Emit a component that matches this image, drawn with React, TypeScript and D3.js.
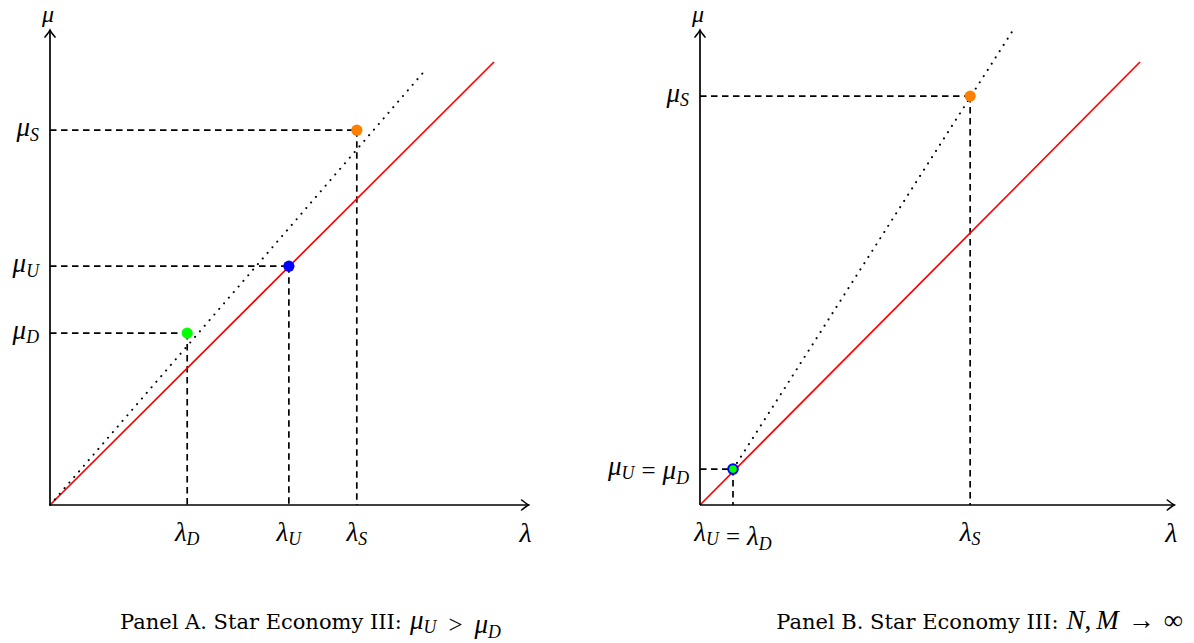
import React from 'react';
import { scaleLinear, line } from 'd3';

const width = 1194;
const height = 643;

// Panel A: Star Economy III, mu_U > mu_D
const aNames = ['D', 'U', 'S'];
const aLambda = [3.09, 5.38, 6.91];
const aMu = [3.88, 5.39, 8.46];
const aDotted = [[0, 0], [8.49, 9.86]];

// Panel B: N, M -> infinity
const bNames = ['UD', 'S'];
const bLambda = [0.75, 6.14];
const bMu = [0.81, 9.23];
const bDotted = [[0.75, 0.81], [7.16, 10.79]];

const diagonal = [[0, 0], [10, 10]];
const axisMax = [10.78, 10.72];

const pointFill: Record<string, string> = { D: '#00ff00', U: '#0000ff', S: '#ff8000', UD: '#00ff00' };
const font = '"Liberation Serif", "DejaVu Serif", serif';
const titleFont = '"DejaVu Serif", "Liberation Serif", serif';

const Sym = ({ s, sub, size = 27, dx = 0 }: { s: string; sub: string; size?: number; dx?: number }) => (
  <>
    <tspan fontStyle="italic" fontSize={size} dx={dx}>{s}</tspan>
    <tspan fontStyle="italic" fontSize={size * 0.66} dy={size * 0.16}>{sub}</tspan>
    <tspan dy={-size * 0.16}></tspan>
  </>
);

const label = (kind: 'μ' | 'λ', n: string) =>
  n === 'UD'
    ? (<><Sym s={kind} sub="U" /><tspan fontSize={25} dx={7}>=</tspan><Sym s={kind} sub="D" dx={7} /></>)
    : <Sym s={kind} sub={n} />;

const Arrow = ({ x, y, dir }: { x: number; y: number; dir: 'right' | 'up' }) => {
  const d = dir === 'right'
    ? `M${x - 7},${y - 5} Q${x - 2},${y - 1} ${x},${y} Q${x - 2},${y + 1} ${x - 7},${y + 5}`
    : `M${x - 5},${y + 7} Q${x - 1},${y + 2} ${x},${y} Q${x + 1},${y + 2} ${x + 5},${y + 7}`;
  return <path d={d} fill="none" stroke="#000" strokeWidth={1.6} strokeLinecap="round" />;
};

type PanelProps = {
  x0: number;
  xRed: number;
  names: string[];
  lambdas: number[];
  mus: number[];
  dotted: number[][];
};

const Panel = ({ x0, xRed, names, lambdas, mus, dotted }: PanelProps) => {
  const x = scaleLinear().domain([0, 10]).range([x0, xRed]);
  const y = scaleLinear().domain([0, 10]).range([505, 62]);
  const path = line<number[]>().x(d => x(d[0])).y(d => y(d[1]));
  const xEnd = x(axisMax[0]);
  const yEnd = y(axisMax[1]);

  return (
    <g fontFamily={font}>
      {/* dashed guides */}
      {names.map((n, i) => (
        <g key={'g' + n}>
          <line x1={x(0)} x2={x(lambdas[i])} y1={y(mus[i])} y2={y(mus[i])}
            stroke="#000" strokeWidth={1.7} strokeDasharray="6.5,4.5" />
          <line x1={x(lambdas[i])} x2={x(lambdas[i])} y1={y(mus[i])} y2={y(0)}
            stroke="#000" strokeWidth={1.7} strokeDasharray="6.5,4.5" />
        </g>
      ))}
      <path d={path(diagonal) || ''} stroke="#ff0000" strokeWidth={1.7} fill="none" />
      <path d={path(dotted) || ''} stroke="#000" strokeWidth={2} fill="none"
        strokeDasharray="0.1,7.3" strokeLinecap="round" />
      {/* axes */}
      <line x1={x(0)} x2={xEnd} y1={y(0)} y2={y(0)} stroke="#000" strokeWidth={1.7} />
      <line x1={x(0)} x2={x(0)} y1={y(0)} y2={yEnd} stroke="#000" strokeWidth={1.7} />
      <Arrow x={xEnd} y={y(0)} dir="right" />
      <Arrow x={x(0)} y={yEnd} dir="up" />
      <text x={xEnd - 3} y={y(0) + 37} fontSize={28} fontStyle="italic" textAnchor="middle">λ</text>
      <text x={x(0) - 2} y={yEnd - 8} fontSize={24} fontStyle="italic" textAnchor="middle">μ</text>
      {/* points */}
      {names.map((n, i) => (
        <circle key={'p' + n} cx={x(lambdas[i])} cy={y(mus[i])} r={n === 'UD' ? 4.8 : 5.6}
          fill={pointFill[n]} stroke={n === 'UD' ? '#0000ff' : 'none'} strokeWidth={2} />
      ))}
      {/* tick labels */}
      {names.map((n, i) => (
        <g key={'l' + n}>
          <text x={x(0) - 11} y={y(mus[i]) + 6} textAnchor="end">{label('μ', n)}</text>
          <text x={x(lambdas[i])} y={y(0) + 36} textAnchor="middle">{label('λ', n)}</text>
        </g>
      ))}
    </g>
  );
};

const App = () => (
  <svg width={width} height={height} style={{ position: 'absolute', left: 0, top: 0, background: '#fff' }}>
    <Panel x0={50} xRed={494} names={aNames} lambdas={aLambda} mus={aMu} dotted={aDotted} />
    <Panel x0={700} xRed={1140} names={bNames} lambdas={bLambda} mus={bMu} dotted={bDotted} />
    <text x={120} y={629} fontFamily={titleFont} fontSize={21}>
      Panel A. Star Economy III:
      <tspan fontFamily={font}>
        <Sym s="μ" sub="U" size={27} dx={8} />
        <tspan fontSize={25} dx={12}>&gt;</tspan>
        <Sym s="μ" sub="D" size={27} dx={12} />
      </tspan>
    </text>
    <text x={1183} y={629} fontFamily={titleFont} fontSize={21} textAnchor="end">
      Panel B. Star Economy III:
      <tspan fontFamily={font} fontSize={27}>
        <tspan fontStyle="italic" dx={8}>N</tspan>
        <tspan>,</tspan>
        <tspan fontStyle="italic" dx={5}>M</tspan>
        <tspan dx={9}>→</tspan>
        <tspan dx={9}>∞</tspan>
      </tspan>
    </text>
  </svg>
);

export default App;
